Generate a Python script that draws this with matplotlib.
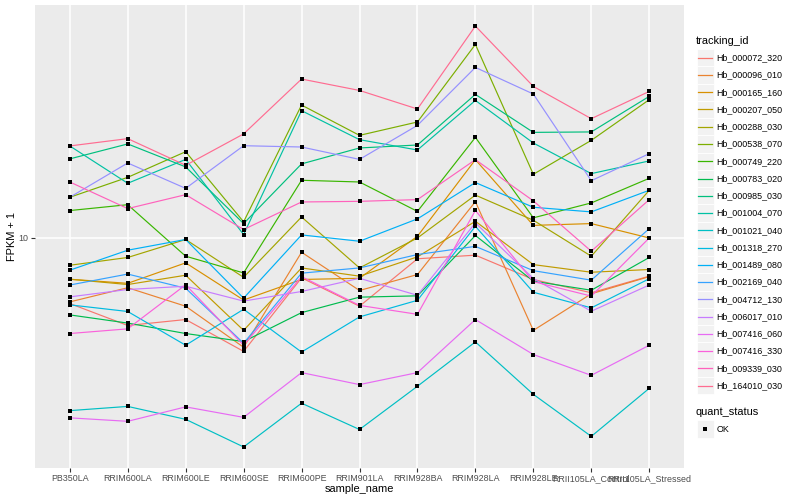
import matplotlib
matplotlib.use("Agg")
import matplotlib.pyplot as plt
import numpy as np
from matplotlib.patches import Rectangle
from matplotlib.lines import Line2D
from matplotlib.ticker import NullLocator

plt.rcParams['font.family'] = ['Liberation Sans', 'DejaVu Sans']

samples = ["PB350LA", "RRIM600LA", "RRIM600LE", "RRIM600SE", "RRIM600PE",
           "RRIM901LA", "RRIM928BA", "RRIM928LA", "RRIM928LE",
           "RRII105LA_Control", "RRII105LA_Stressed"]

tracking_ids = ["Hb_000072_320", "Hb_000096_010", "Hb_000165_160", "Hb_000207_050",
                "Hb_000288_030", "Hb_000538_070", "Hb_000749_220", "Hb_000783_020",
                "Hb_000985_030", "Hb_001004_070", "Hb_001021_040", "Hb_001318_270",
                "Hb_001489_080", "Hb_002169_040", "Hb_004712_130", "Hb_006017_010",
                "Hb_007416_060", "Hb_007416_330", "Hb_009339_030", "Hb_164010_030"]

colors = ["#F8766D", "#EA8331", "#D89000", "#C09B00", "#A3A500", "#7CAE00",
          "#39B600", "#00BB4E", "#00BF7D", "#00C1A3", "#00BFC4", "#00BAE0",
          "#00B0F6", "#35A2FF", "#9590FF", "#C77CFF", "#E76BF3", "#FA62DB",
          "#FF62BC", "#FF6C91"]

# FPKM + 1 per sample (same order as samples)
Hb_000072_320 = [7.08, 6.31, 6.51, 5.51, 8.10, 6.98, 8.95, 9.12, 8.03, 7.49, 8.17]
Hb_000096_010 = [7.14, 7.69, 6.98, 5.63, 9.26, 7.58, 8.24, 12.07, 6.15, 7.45, 8.15]
Hb_000165_160 = [8.04, 7.87, 8.76, 7.21, 8.03, 8.08, 10.07, 15.04, 10.66, 10.76, 9.98]
Hb_000207_050 = [8.04, 7.82, 8.21, 6.15, 8.53, 8.17, 9.04, 10.89, 8.68, 8.34, 8.46]
Hb_000288_030 = [8.65, 9.01, 9.90, 8.12, 11.14, 8.53, 9.98, 12.49, 10.95, 9.07, 12.81]
Hb_000538_070 = [12.35, 13.71, 15.68, 10.86, 20.02, 17.08, 18.32, 27.50, 13.93, 16.64, 20.59]
Hb_000749_220 = [11.52, 11.88, 9.07, 8.31, 13.50, 13.38, 11.47, 16.90, 11.09, 11.99, 13.64]
Hb_000783_020 = [6.67, 6.39, 6.05, 5.80, 6.75, 7.32, 7.37, 10.11, 7.96, 7.59, 9.01]
Hb_000985_030 = [15.10, 16.33, 14.48, 10.76, 14.71, 15.99, 16.24, 21.17, 17.35, 17.39, 20.95]
Hb_001004_070 = [16.16, 13.29, 15.06, 10.16, 19.44, 16.70, 15.82, 20.51, 16.41, 13.98, 14.94]
Hb_001021_040 = [4.04, 4.13, 3.86, 3.34, 4.20, 3.66, 4.59, 5.79, 4.40, 3.53, 4.54]
Hb_001318_270 = [7.03, 6.79, 5.69, 6.87, 5.49, 6.60, 7.20, 10.61, 7.51, 6.92, 8.06]
Hb_001489_080 = [8.43, 9.36, 9.90, 7.28, 10.14, 9.81, 11.03, 13.34, 11.72, 11.44, 12.81]
Hb_002169_040 = [7.80, 8.26, 7.67, 5.75, 8.30, 8.53, 9.15, 9.55, 8.41, 8.00, 10.48]
Hb_004712_130 = [12.35, 14.78, 12.94, 16.18, 16.07, 15.06, 18.00, 24.38, 21.21, 13.47, 15.52]
Hb_006017_010 = [7.33, 7.62, 7.75, 7.17, 7.54, 8.08, 7.39, 10.80, 8.07, 6.80, 7.80]
Hb_007416_060 = [3.89, 3.82, 4.12, 3.90, 4.93, 4.63, 4.93, 6.51, 5.42, 4.86, 5.69]
Hb_007416_330 = [6.05, 6.20, 7.81, 5.69, 8.15, 7.01, 6.69, 11.53, 7.94, 7.36, 9.98]
Hb_009339_030 = [13.38, 11.64, 12.52, 10.43, 12.05, 12.09, 12.20, 15.04, 12.12, 9.31, 12.20]
Hb_164010_030 = [16.16, 16.79, 14.60, 17.21, 22.94, 21.61, 19.61, 30.28, 22.07, 18.64, 21.50]

series = [Hb_000072_320, Hb_000096_010, Hb_000165_160, Hb_000207_050, Hb_000288_030,
          Hb_000538_070, Hb_000749_220, Hb_000783_020, Hb_000985_030, Hb_001004_070,
          Hb_001021_040, Hb_001318_270, Hb_001489_080, Hb_002169_040, Hb_004712_130,
          Hb_006017_010, Hb_007416_060, Hb_007416_330, Hb_009339_030, Hb_164010_030]

quant_status = ["OK"]

W, H = 800, 500
fig = plt.figure(figsize=(W / 100, H / 100), dpi=100)
fig.patch.set_facecolor('white')

def fx(px):
    return px / W

def fy(py):
    return 1 - py / H

small = 6.4
big = 7.9

pl, pr, pt, pb = 35, 684, 5, 468
ax = fig.add_axes([fx(pl), fy(pb), (pr - pl) / W, (pb - pt) / H])
ax.set_facecolor('#EBEBEB')

xs = np.arange(len(samples))
for vals, col in zip(series, colors):
    ax.plot(xs, vals, color=col, lw=0.85, zorder=2, solid_capstyle='butt')
for vals in series:
    ax.plot(xs, vals, ls='none', marker='s', ms=2.8, color='black',
            markeredgewidth=0, zorder=3)

ax.set_yscale('log')
allv = np.concatenate([np.asarray(s, float) for s in series])
lo, hi = np.log10(allv.min()), np.log10(allv.max())
pad = 0.05 * (hi - lo)
ax.set_ylim(10 ** (lo - pad), 10 ** (hi + pad))
ax.set_xlim(-0.6, len(samples) - 0.4)

ax.set_xticks(xs)
ax.set_xticklabels(samples)
ax.set_yticks([10])
ax.set_yticklabels(['10'])
ax.yaxis.set_minor_locator(NullLocator())
ax.xaxis.set_minor_locator(NullLocator())

ax.grid(True, which='major', color='white', lw=1.1)
ax.set_axisbelow(True)
for s in ax.spines.values():
    s.set_visible(False)
ax.tick_params(axis='both', length=3, width=0.8, color='#333333',
               labelsize=small, labelcolor='#4D4D4D', pad=1.5)

pw, ph = pr - pl, pb - pt
ax.set_xlabel('sample_name', fontsize=big, color='black')
ax.xaxis.set_label_coords(0.5, (pb - 489.5) / ph)
ax.xaxis.label.set_va('center')
ax.set_ylabel('FPKM + 1', fontsize=big, color='black')
ax.yaxis.set_label_coords((12 - pl) / pw, 0.5)
ax.yaxis.label.set_va('center')

# legend: tracking_id
fig.text(fx(696), fy(40.7), 'tracking_id', fontsize=big, va='center', ha='left')
key_h = 17.26
y0 = 57.7
for i, (tid, col) in enumerate(zip(tracking_ids, colors)):
    cy = y0 + i * key_h
    fig.add_artist(Rectangle((fx(696.5), fy(cy + key_h / 2)), key_h / W, key_h / H,
                             transform=fig.transFigure, facecolor='#F2F2F2',
                             edgecolor='white', lw=0.6))
    fig.add_artist(Line2D([fx(698.3), fx(712.0)], [fy(cy), fy(cy)],
                          transform=fig.transFigure, color=col, lw=0.9))
    fig.text(fx(716.7), fy(cy), tid, fontsize=small, va='center', ha='left')

# legend: quant_status
fig.text(fx(696), fy(411.7), 'quant_status', fontsize=big, va='center', ha='left')
for j, q in enumerate(quant_status):
    cy = 429 + j * key_h
    fig.add_artist(Rectangle((fx(696.5), fy(cy + key_h / 2)), key_h / W, key_h / H,
                             transform=fig.transFigure, facecolor='#F2F2F2',
                             edgecolor='white', lw=0.6))
    fig.add_artist(Line2D([fx(705.1)], [fy(cy)], transform=fig.transFigure,
                          ls='none', marker='s', ms=2.8, color='black',
                          markeredgewidth=0))
    fig.text(fx(716.7), fy(cy), q, fontsize=small, va='center', ha='left')

fig.savefig('out.png', dpi=100)
